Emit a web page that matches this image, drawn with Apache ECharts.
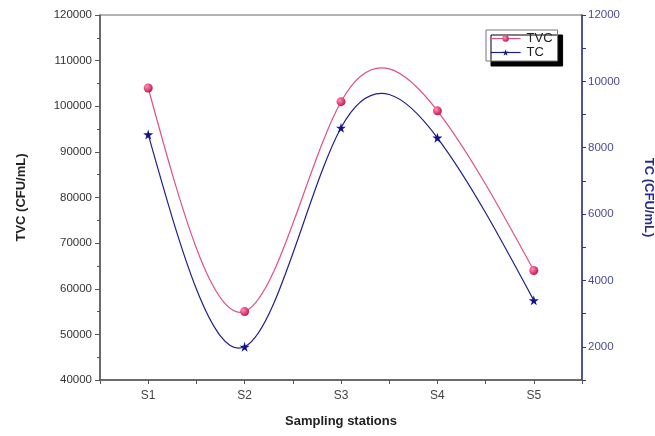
<!DOCTYPE html>
<html>
<head>
<meta charset="utf-8">
<script src="https://cdn.jsdelivr.net/npm/echarts@6/dist/echarts.min.js"></script>
<style>
  html, body { margin: 0; padding: 0; background: #fff; }
  #chart { width: 655px; height: 436px; }
</style>
</head>
<body>
<div id="chart"></div>
<script>
// stations and readings
const stations = ['S1', 'S2', 'S3', 'S4', 'S5'];
const tvc = [104000, 55000, 101000, 99000, 64000];
const tc = [8400, 2000, 8600, 8300, 3400];

const tvcColor = '#e0508a';
const tcColor = '#1f1f8f';

// x is a value axis so ticks sit both on stations and between them
function pairs(vals) {
  return vals.map(function (v, i) { return [i + 1, v]; });
}

// natural cubic spline (unit spacing) -> second derivatives
function splineM(y) {
  const n = y.length;
  const a = [], b = [], c = [], d = [];
  for (let i = 1; i < n - 1; i++) {
    a.push(1); b.push(4); c.push(1);
    d.push(6 * (y[i + 1] - 2 * y[i] + y[i - 1]));
  }
  const m = d.length;
  for (let i = 1; i < m; i++) {
    const w = a[i] / b[i - 1];
    b[i] -= w * c[i - 1];
    d[i] -= w * d[i - 1];
  }
  const M = new Array(n).fill(0);
  for (let i = m - 1; i >= 0; i--) {
    M[i + 1] = (d[i] - (i < m - 1 ? c[i] * M[i + 2] : 0)) / b[i];
  }
  return M;
}

// each data item draws the spline piece to the next item as a bezier
function curveRenderer(vals, color) {
  const M = splineM(vals);
  return function (params, api) {
    const i = params.dataIndex;
    if (i >= vals.length - 1) return null;
    const y0 = vals[i], y1 = vals[i + 1];
    const s = (y1 - y0) - (2 * M[i] + M[i + 1]) / 6;
    const e = (y1 - y0) + (M[i] + 2 * M[i + 1]) / 6;
    const p0 = api.coord([i + 1, y0]);
    const c0 = api.coord([i + 1 + 1 / 3, y0 + s / 3]);
    const c1 = api.coord([i + 2 - 1 / 3, y1 - e / 3]);
    const p1 = api.coord([i + 2, y1]);
    return {
      type: 'bezierCurve',
      shape: {
        x1: p0[0], y1: p0[1], x2: p1[0], y2: p1[1],
        cpx1: c0[0], cpy1: c0[1], cpx2: c1[0], cpy2: c1[1]
      },
      style: {stroke: color, fill: null, lineWidth: 1.2}
    };
  };
}

const chart = echarts.init(document.getElementById('chart'));
const font = 'Liberation Sans, Arial, sans-serif';

chart.setOption({
  animation: false,
  textStyle: {fontFamily: font},
  grid: {
    left: 100, right: 73, top: 15, bottom: 56,
    outerBoundsMode: 'none',
    show: true, borderColor: '#666', borderWidth: 1
  },
  legend: {
    left: 486, top: 30,
    orient: 'vertical',
    itemGap: 1,
    itemWidth: 30, itemHeight: 8,
    padding: [2, 5, 2, 4],
    backgroundColor: '#fff',
    borderColor: '#777', borderWidth: 1,
    shadowColor: '#000', shadowOffsetX: 5, shadowOffsetY: 5, shadowBlur: 0,
    textStyle: {fontSize: 13, lineHeight: 12, color: '#222', padding: [0, 0, 0, 1]},
    data: [
      {name: 'TVC', lineStyle: {color: tvcColor, width: 1.2, opacity: 1}},
      {name: 'TC', lineStyle: {color: tcColor, width: 1.2, opacity: 1}}
    ]
  },
  xAxis: {
    type: 'value',
    min: 0.5, max: 5.5, interval: 0.5,
    name: 'Sampling stations',
    nameLocation: 'middle',
    nameGap: 35,
    nameTextStyle: {fontSize: 13, fontWeight: 'bold', color: '#222'},
    axisLine: {lineStyle: {color: '#555', width: 1.5}},
    axisTick: {length: 4, lineStyle: {color: '#555'}},
    axisLabel: {
      fontSize: 12, color: '#444', margin: 10,
      formatter: function (v) {
        return Number.isInteger(v) ? stations[v - 1] : '';
      }
    },
    splitLine: {show: false}
  },
  yAxis: [{
    type: 'value',
    min: 40000, max: 120000, interval: 10000,
    name: 'TVC (CFU/mL)',
    nameLocation: 'middle',
    nameGap: 72,
    nameTextStyle: {fontSize: 13, fontWeight: 'bold', color: '#222'},
    axisLine: {show: true, lineStyle: {color: '#555', width: 1.5}},
    axisTick: {length: 5, lineStyle: {color: '#555'}},
    minorTick: {show: true, splitNumber: 2, length: 3, lineStyle: {color: '#555'}},
    axisLabel: {
      fontSize: 11.5, color: '#333', margin: 8,
      formatter: function (v) { return String(v); }
    },
    splitLine: {show: false}
  }, {
    type: 'value',
    position: 'right',
    min: 1000, max: 12000, interval: 1000,
    name: 'TC (CFU/mL)',
    nameLocation: 'middle',
    nameRotate: -90,
    nameGap: 60,
    nameTextStyle: {fontSize: 13, fontWeight: 'bold', color: '#2a2a8a'},
    axisLine: {show: true, lineStyle: {color: '#33338c', width: 1.5}},
    axisTick: {length: 4, lineStyle: {color: '#33338c'}},
    axisLabel: {
      fontSize: 11.5, color: '#4a4a9a', margin: 6,
      formatter: function (v) { return v % 2000 === 0 ? String(v) : ''; }
    },
    splitLine: {show: false}
  }],
  series: [{
    name: 'TVC curve',
    type: 'custom',
    yAxisIndex: 0,
    z: 1,
    data: pairs(tvc),
    renderItem: curveRenderer(tvc, tvcColor)
  }, {
    name: 'TC curve',
    type: 'custom',
    yAxisIndex: 1,
    z: 1,
    data: pairs(tc),
    renderItem: curveRenderer(tc, tcColor)
  }, {
    name: 'TVC',
    type: 'line',
    yAxisIndex: 0,
    z: 3,
    data: pairs(tvc),
    symbol: 'circle',
    symbolSize: 9,
    lineStyle: {color: tvcColor, width: 1.2, opacity: 0},
    itemStyle: {
      color: new echarts.graphic.RadialGradient(0.35, 0.35, 0.7, [
        {offset: 0, color: '#ff8fb5'},
        {offset: 1, color: '#c8104e'}
      ]),
      borderWidth: 0
    }
  }, {
    name: 'TC',
    type: 'line',
    yAxisIndex: 1,
    z: 3,
    data: pairs(tc),
    symbol: 'path://M50,0 L61,35 L98,35 L68,57 L79,91 L50,70 L21,91 L32,57 L2,35 L39,35 Z',
    symbolSize: 10,
    lineStyle: {color: tcColor, width: 1.2, opacity: 0},
    itemStyle: {color: '#14148a', borderWidth: 0}
  }]
});
</script>
</body>
</html>
